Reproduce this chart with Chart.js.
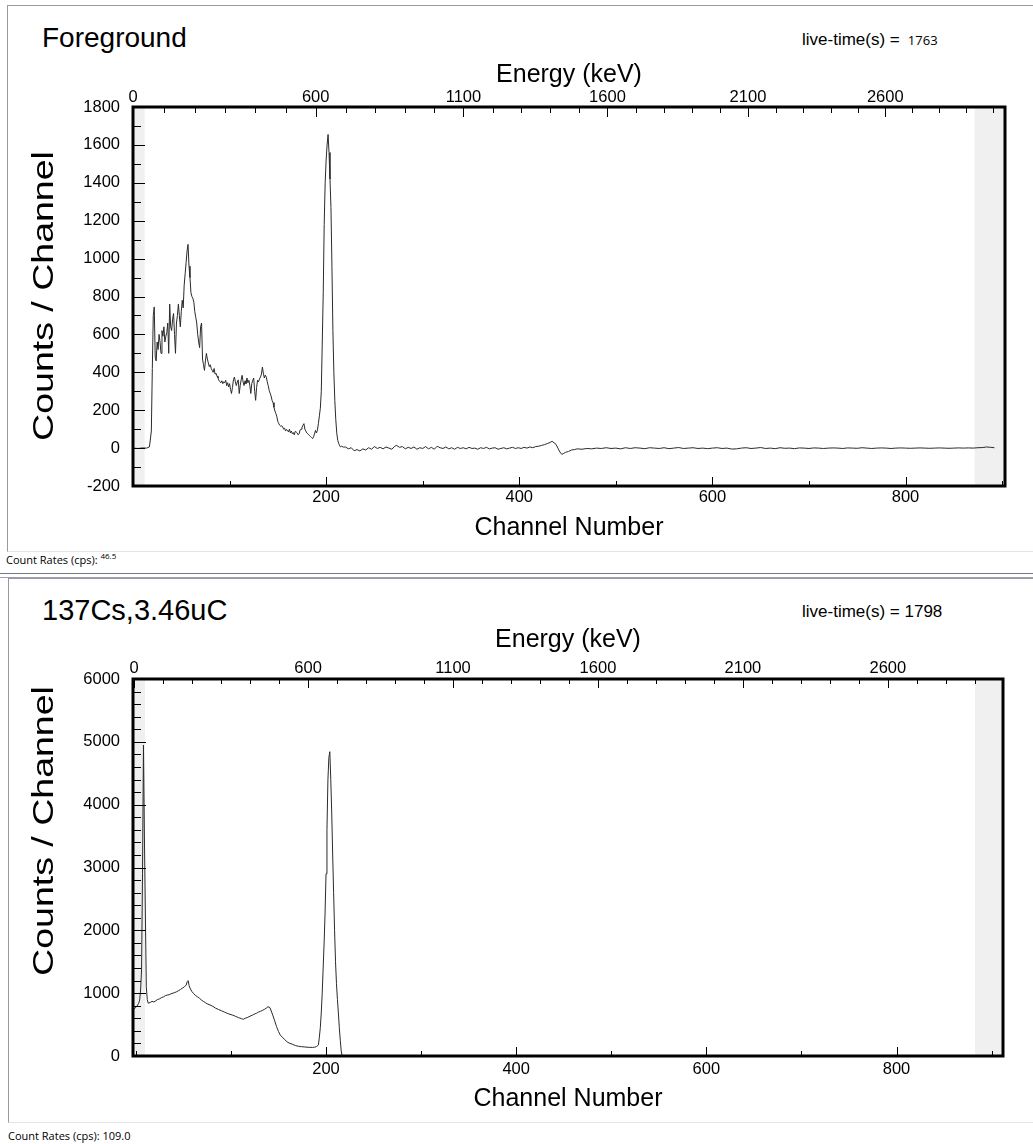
<!DOCTYPE html>
<html>
<head>
<meta charset="utf-8">
<script src="https://cdn.jsdelivr.net/npm/chart.js@4.4.1/dist/chart.umd.min.js"></script>
<style>
  html, body { margin: 0; padding: 0; background: #fff; }
  body { width: 1033px; height: 1144px; position: relative; overflow: hidden; font-family: "Liberation Sans", Arial, sans-serif; color: #000; }
  .abs { position: absolute; white-space: nowrap; }
  .frame { position: absolute; box-sizing: border-box; border-left: 1px solid #9a9a9a; border-top: 1px solid #9a9a9a; border-bottom: 1px solid #e4e4e4; }
  .sep { position: absolute; left: 0; width: 1033px; height: 1px; background: #6f7a86; }
  .ui { font-family: "Open Sans", "Noto Sans", sans-serif; }
  canvas { position: absolute; left: 0; }
  .ytitle { position: absolute; font-size: 30px; line-height: 30px; transform-origin: center center; }
</style>
</head>
<body>
<div class="frame" style="left:7px; top:5px; width:1040px; height:547px;"></div>
<div class="abs ui" style="left:6px; top:553px; font-size:11px; line-height:14px;">Count Rates (cps): <span style="font-size:8px; position:relative; top:-5px;">46.5</span></div>
<div class="sep" style="top:573px;"></div>
<div class="sep" style="top:577px; background:#9aa3ad;"></div>
<div class="frame" style="left:8px; top:578px; width:1040px; height:545px;"></div>
<div class="abs ui" style="left:8px; top:1129px; font-size:11px; line-height:14px;">Count Rates (cps): 109.0</div>

<div class="abs" style="left:42px; top:24px; font-size:28px; line-height:28px;">Foreground</div>
<div class="abs" style="left:802px; top:31px; font-size:17px; line-height:17px;">live-time(s) = <span class="ui" style="font-size:13px;">&nbsp;1763</span></div>
<div class="abs" style="left:42px; top:596px; font-size:29px; line-height:29px;">137Cs,3.46uC</div>
<div class="abs" style="left:802px; top:603px; font-size:17px; line-height:17px;">live-time(s) = 1798</div>

<canvas id="top" width="1033" height="560" style="top:0px;"></canvas>
<canvas id="bot" width="1033" height="574" style="top:570px;"></canvas>

<div class="ytitle" id="yt1">Counts / Channel</div>
<div class="ytitle" id="yt2">Counts / Channel</div>

<script>
// ---------------- DATA ----------------
// Foreground spectrum (channel, counts/channel)
const fgChannels = [0,5,10,14,17,19,20,21,22,23,24,25,26,27,28,29,30,31,32,33,34,35,36,37,38,39,40,41,42,43,44,45,46,47,48,49,50,51,52,53,54,55,56,57,58,59,60,61,62,63,64,65,66,67,68,69,70,71,72,73,74,75,76,77,78,79,80,81,82,83,84,85,86,87,88,89,90,91,92,93,94,95,96,97,98,99,100,101,102,103,104,105,106,107,108,109,110,111,112,113,114,115,116,117,118,119,120,121,122,123,124,125,126,127,128,129,130,131,132,133,134,135,136,137,138,139,140,141,142,143,144,145,146,147,148,149,150,151,152,153,154,155,156,157,158,159,160,161,162,163,164,165,166,167,168,169,170,171,172,173,174,175,176,177,178,179,180,181,182,183,184,185,186,187,188,189,190,191,192,193,194,195,196,197,198,199,200,201,202,203,204,205,206,207,208,209,210,211,212,213,214,215,216,218,220,223,226,229,232,235,238,241,244,247,250,253,256,259,262,265,268,271,273,276,279,282,285,288,291,294,297,300,303,306,309,312,315,318,321,324,327,330,333,336,339,342,345,348,351,354,357,360,363,366,369,372,375,378,381,384,387,390,393,396,399,402,405,408,411,414,417,420,423,426,429,432,434,436,438,440,442,444,446,448,451,454,457,460,465,470,475,480,485,490,495,500,505,510,515,520,525,530,535,540,545,550,555,560,565,570,575,580,585,590,595,600,605,610,615,620,625,630,635,640,645,650,655,660,665,670,675,680,685,690,695,700,705,710,715,720,725,730,735,740,745,750,755,760,765,770,775,780,785,790,795,800,805,810,815,820,825,830,835,840,845,850,855,860,865,870,875,880,884,888,892];
const fgCounts = [0,-2,1,0,6,90,420,700,745,480,460,560,520,600,560,500,620,590,640,560,590,610,660,500,760,640,620,680,710,600,500,660,700,760,700,640,720,780,740,860,920,980,1040,1075,960,900,820,800,790,770,720,690,660,600,560,530,640,660,470,440,410,460,500,470,450,430,440,420,410,400,420,390,395,380,370,358,350,345,355,340,350,345,358,330,345,323,340,310,288,320,360,375,350,330,349,360,288,330,360,384,350,330,355,340,370,345,358,330,288,340,358,370,300,252,320,358,350,365,375,390,428,395,370,385,375,350,330,305,290,275,252,240,215,195,182,165,140,129,120,115,118,111,100,105,90,98,94,85,100,80,90,76,82,70,88,85,80,70,76,95,100,110,120,129,100,90,80,76,70,65,60,55,50,60,75,94,80,94,130,170,210,300,560,820,1180,1400,1520,1600,1655,1560,1420,1270,960,620,400,250,150,80,41,25,12,6,10,5,6,-4,2,-14,-8,-15,-4,-10,2,-6,8,-2,4,-4,6,0,-6,10,14,4,8,-4,4,-2,6,-6,2,-2,8,-4,4,-6,10,2,-2,6,-4,2,-6,4,-2,2,-4,4,-2,0,-6,2,-2,4,-4,0,2,-6,-2,2,-4,0,4,-2,2,-2,4,0,6,2,8,10,14,18,24,30,36,28,20,0,-20,-33,-28,-22,-18,-10,-8,-4,-6,-2,-4,0,-2,2,-2,0,-4,2,-2,2,0,-3,2,0,-2,2,-3,0,3,-2,0,2,-2,0,-3,0,2,-2,0,-5,-4,0,2,-2,0,3,-2,0,-3,2,-1,0,-3,1,0,-2,1,0,-2,0,1,0,-2,1,0,-1,2,0,-2,0,1,0,-2,0,1,0,-1,0,1,0,-1,0,1,0,-1,0,1,0,1,0,2,3,6,4,2];

// 137Cs, 3.46 uC spectrum (channel, counts/channel)
const csChannels = [-3,-1,1,3,4,5,6,7,8,9,10,11,12,13,15,17,19,21,23,25,27,29,31,33,35,37,39,41,43,45,47,49,51,53,54,55,56,57,59,61,63,65,67,69,71,73,75,78,81,84,87,90,93,96,99,102,105,108,111,113,115,117,119,121,123,125,127,129,131,133,135,137,139,141,142,144,146,148,150,152,154,156,158,160,162,165,168,171,174,177,180,183,186,188,190,192,193,194,195,196,197,198,199,200,201,202,203,204,205,206,207,208,209,210,211,212,213,214,215,216,217,250,300,400,500,600,700,800,912];
const csCounts = [740,760,790,840,890,1050,1370,2900,4950,3500,2276,1100,900,840,850,870,860,880,900,910,930,940,960,970,975,990,1000,1010,1024,1040,1060,1080,1100,1130,1183,1200,1120,1080,1024,990,960,940,918,890,870,850,830,812,790,760,740,720,700,680,663,650,630,610,595,584,600,610,625,640,653,670,680,700,710,725,740,760,785,770,732,650,560,467,390,330,300,270,240,215,202,185,165,155,148,145,140,138,137,140,150,175,300,450,684,1000,1400,1800,2276,2900,3600,4393,4750,4843,4400,3867,3200,2600,2000,1500,1150,900,684,450,250,80,0,0,0,0,0,0,0,0,0];

// Axis tick labels
const fgYTickLabels = ['-200','0','200','400','600','800','1000','1200','1400','1600','1800'];
const csYTickLabels = ['0','1000','2000','3000','4000','5000','6000'];
const channelTickLabels = ['200','400','600','800'];
const energyTickLabels = ['0','600','1100','1600','2100','2600'];

// Energy calibrations (keV as a function of channel) used for the top axis
const fgCal = { b: 3.118, c: 0.000282 };           // E = b*ch + c*ch^2
const csCal = { k: 3.28, off: 1.8 };                // E = k*(ch + off)
function fgChFromE(E) { return (-fgCal.b + Math.sqrt(fgCal.b * fgCal.b + 4 * fgCal.c * E)) / (2 * fgCal.c); }
function csChFromE(E) { return E / csCal.k - csCal.off; }

// ---------------- CHART ----------------
const FONT = "'Liberation Sans', Arial, sans-serif";
const TICK_COLOR = '#000';
function range(a, b, s) { const r = []; for (let v = a; v <= b + 1e-9; v += s) r.push(Math.round(v * 1000) / 1000); return r; }

function makeTickPlugin(p) {
  return {
    id: 'tickFrame',
    beforeDatasetsDraw(chart) {
      const { ctx, chartArea: a, scales } = chart;
      ctx.save();
      ctx.fillStyle = '#f0f0f0';
      p.bands.forEach(([lo, hi]) => {
        const p0 = scales.x.getPixelForValue(lo), p1 = scales.x.getPixelForValue(hi);
        ctx.fillRect(p0, a.top, p1 - p0, a.bottom - a.top);
      });
      ctx.restore();
    },
    afterDraw(chart) {
      const { ctx, chartArea: a, scales } = chart;
      const L = p.len;
      const segs = [];
      p.yTicks.forEach(v => {
        const py = Math.round(scales.y.getPixelForValue(v)) + 0.5;
        const len = p.yLabels.includes(String(v)) ? L.yMajor : L.yMinor;
        segs.push([a.left, py, a.left + len, py]);
      });
      p.xTicks.forEach(v => {
        const px = Math.round(scales.x.getPixelForValue(v)) + 0.5;
        const len = channelTickLabels.includes(String(v)) ? L.xMajor : L.xMinor;
        segs.push([px, a.bottom, px, a.bottom - len]);
      });
      p.eTicks.forEach(E => {
        const px = Math.round(scales.x2.getPixelForValue(p.chFromE(E))) + 0.5;
        const len = energyTickLabels.includes(String(E)) ? L.tMajor : L.tMinor;
        segs.push([px, a.top, px, a.top + len]);
      });
      ctx.save();
      ctx.strokeStyle = TICK_COLOR;
      ctx.lineWidth = 1;
      segs.forEach(s => {
        ctx.beginPath();
        ctx.moveTo(s[0], s[1]);
        ctx.lineTo(s[2], s[3]);
        ctx.stroke();
      });
      ctx.strokeStyle = '#000';
      ctx.lineWidth = 3;
      ctx.strokeRect(a.left, a.top, a.right - a.left, a.bottom - a.top);
      ctx.restore();
    }
  };
}

function makeChart(id, p) {
  p.yTicks = range(p.yMin, p.yMax, p.yMinorStep);
  p.xTicks = range(0, 900, 100).filter(v => v >= p.xMin && v <= p.xMax);
  p.eTicks = range(0, 3000, 100).filter(E => { const c = p.chFromE(E); return c >= p.xMin && c <= p.xMax; });
  const tickFont = { family: FONT, size: 16.5 };
  const common = (extra) => Object.assign({
    type: 'linear',
    grid: { display: false, drawTicks: false },
    border: { display: false },
  }, extra);
  return new Chart(document.getElementById(id), {
    type: 'line',
    data: {
      datasets: [{
        data: p.channels.map((c, i) => ({ x: c, y: p.counts[i] })),
        borderColor: '#2a2a2a', borderWidth: 1, pointRadius: 0, tension: 0, fill: false,
        xAxisID: 'x', yAxisID: 'y'
      }]
    },
    options: {
      responsive: false, animation: false, devicePixelRatio: 1,
      layout: { padding: { left: 0, top: 0, right: p.padRight, bottom: 0 } },
      plugins: { legend: { display: false }, tooltip: { enabled: false } },
      scales: {
        x: common({
          position: 'bottom', min: p.xMin, max: p.xMax,
          afterBuildTicks(s) { s.ticks = p.xTicks.map(v => ({ value: v })); },
          afterFit(s) { s.height = p.xH; },
          ticks: { autoSkip: false, maxRotation: 0, padding: p.xPad, color: '#000', font: tickFont,
            callback: (v) => channelTickLabels.includes(String(v)) ? String(v) : '' },
          title: { display: true, text: 'Channel Number', color: '#000', font: { family: FONT, size: 25 }, padding: { top: 0, bottom: p.xTitlePad } }
        }),
        x2: common({
          position: 'top', min: p.xMin, max: p.xMax,
          afterBuildTicks(s) { s.ticks = p.eTicks.map(E => ({ value: p.chFromE(E) })); },
          afterFit(s) { s.height = p.x2H; },
          ticks: { autoSkip: false, maxRotation: 0, padding: p.x2Pad, color: '#000', font: tickFont,
            callback: (v, i) => { const E = String(p.eTicks[i]); return energyTickLabels.includes(E) ? E : ''; } },
          title: { display: true, text: 'Energy (keV)', color: '#000', font: { family: FONT, size: 25 }, padding: { top: p.x2TitlePad, bottom: 0 } }
        }),
        y: common({
          position: 'left', min: p.yMin, max: p.yMax,
          afterBuildTicks(s) { s.ticks = p.yTicks.map(v => ({ value: v })); },
          afterFit(s) { s.width = 133; },
          ticks: { autoSkip: false, padding: 13, color: '#000', font: tickFont,
            callback: (v) => p.yLabels.includes(String(v)) ? String(v) : '' },
          title: { display: false }
        })
      }
    },
    plugins: [makeTickPlugin(p)]
  });
}

const c1 = makeChart('top', {
  channels: fgChannels, counts: fgCounts,
  xMin: 0, xMax: 903, yMin: -200, yMax: 1800, yMinorStep: 100, yLabels: fgYTickLabels,
  chFromE: fgChFromE, padRight: 28,
  xH: 74, x2H: 107, xPad: 2, x2Pad: 0, xTitlePad: 17, x2TitlePad: 60,
  bands: [[0, 12], [871.5, 903]],
  len: { yMajor: 12, yMinor: 8, xMajor: 9, xMinor: 5, tMajor: 10, tMinor: 6 }
});
const c2 = makeChart('bot', {
  channels: csChannels, counts: csCounts,
  xMin: -3, xMax: 912, yMin: 0, yMax: 6000, yMinorStep: 200, yLabels: csYTickLabels,
  chFromE: csChFromE, padRight: 30,
  xH: 88, x2H: 109, xPad: 4, x2Pad: 1, xTitlePad: 30, x2TitlePad: 55,
  bands: [[-3, 9.6], [882.6, 912]],
  len: { yMajor: 13, yMinor: 8, xMajor: 9, xMinor: 5, tMajor: 9, tMinor: 5 }
});

// rotated, stretched y-axis titles
function placeYTitle(elId, cx, cy) {
  const el = document.getElementById(elId);
  const w = el.offsetWidth, h = el.offsetHeight;
  el.style.left = (cx - w / 2) + 'px';
  el.style.top = (cy - h / 2) + 'px';
  el.style.transform = 'rotate(-90deg) scaleX(1.25)';
}
placeYTitle('yt1', 43, 296);
placeYTitle('yt2', 43, 831);
</script>
</body>
</html>
